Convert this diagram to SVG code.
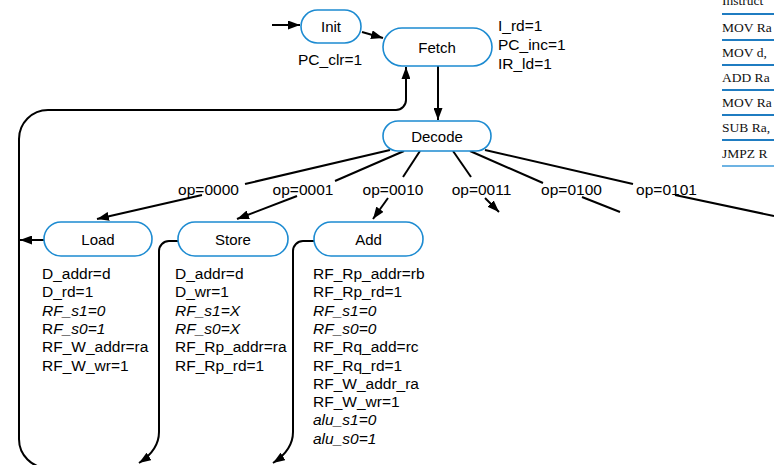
<svg xmlns="http://www.w3.org/2000/svg" width="774" height="465" viewBox="0 0 774 465">
<defs>
<marker id="ah" markerWidth="12" markerHeight="9" refX="12" refY="4.5" orient="auto" markerUnits="userSpaceOnUse"><path d="M0,0 L12,4.5 L0,9 z" fill="#000"/></marker>
<style>
.n rect{fill:#fff;stroke:#1d8bd1;stroke-width:1.6}
.n text{font-family:"Liberation Sans",Arial,sans-serif;font-size:15px;text-anchor:middle;fill:#000}
.c path,.c line{stroke:#000;stroke-width:2;fill:none}
.a{marker-end:url(#ah)}
.t{font-family:"Liberation Sans",Arial,sans-serif;font-size:15.5px;fill:#000}
.i{font-style:italic}
.lbl{font-family:"Liberation Sans",Arial,sans-serif;font-size:15.5px;text-anchor:middle;fill:#000}
.tb{font-family:"Liberation Serif","Times New Roman",serif;font-size:13.5px;fill:#111}
.tl{stroke:#1f7cc1;stroke-width:2.2}
</style>
</defs>
<rect width="774" height="465" fill="#fff"/>

<g id="table">
<text class="tb" x="722" y="5">Instruct</text>
<line class="tl" x1="722" y1="14" x2="774" y2="14"/>
<text class="tb" x="722" y="32">MOV Ra</text>
<line class="tl" x1="722" y1="40" x2="774" y2="40"/>
<text class="tb" x="722" y="57">MOV d,</text>
<line class="tl" x1="722" y1="65" x2="774" y2="65"/>
<text class="tb" x="722" y="82">ADD Ra</text>
<line class="tl" x1="722" y1="90" x2="774" y2="90"/>
<text class="tb" x="722" y="107">MOV Ra</text>
<line class="tl" x1="722" y1="115" x2="774" y2="115"/>
<text class="tb" x="722" y="132">SUB Ra,</text>
<line class="tl" x1="722" y1="140" x2="774" y2="140"/>
<text class="tb" x="722" y="158">JMPZ R</text>
<line class="tl" x1="722" y1="166" x2="774" y2="166" style="stroke:#6db3e3"/>
</g>

<g id="connectors" class="c">
<line class="a" x1="272" y1="25" x2="300" y2="25"/>
<line class="a" x1="362" y1="32" x2="383" y2="38"/>
<line class="a" x1="438" y1="66" x2="438" y2="120"/>
<path class="a" d="M48,468 A29,29 0 0 1 19,439 L19,139 A29,29 0 0 1 48,110 L396,110 A10,10 0 0 0 406,100 L406,67"/>
<line class="a" x1="44" y1="240" x2="20" y2="240"/>
<path class="a" d="M178,241 L169,241 A10,10 0 0 0 159,251 L159,432 Q159,450 139,463"/>
<path class="a" d="M314,241 L303,241 A10,10 0 0 0 293,251 L293,432 Q293,450 273,463"/>
<path d="M390,150 L245,184"/>
<path class="a" d="M202,195 L97,219"/>
<path d="M404,151 L335,181"/>
<path class="a" d="M297,196 L237,219"/>
<path d="M420,151 L403,177"/>
<path class="a" d="M388,198 L373,219"/>
<path d="M453,151 L471,177"/>
<path class="a" d="M485,198 L499,212"/>
<path d="M470,151 L543,183"/>
<path d="M582,197 L620,212"/>
<path d="M485,150 L633,184"/>
<path d="M675,195 L774,216"/>
</g>

<g id="oplabels">
<text class="lbl" x="208.5" y="195">op=0000</text>
<text class="lbl" x="303" y="195">op=0001</text>
<text class="lbl" x="393" y="195">op=0010</text>
<text class="lbl" x="481.5" y="195">op=0011</text>
<text class="lbl" x="571.5" y="195">op=0100</text>
<text class="lbl" x="666.5" y="195">op=0101</text>
</g>

<g id="init" class="n">
<rect x="301" y="10" width="60" height="33" rx="16.5"/>
<text x="331" y="32">Init</text>
</g>
<text class="t" x="298" y="65">PC_clr=1</text>

<g id="fetch" class="n">
<rect x="383" y="28" width="109" height="38" rx="19"/>
<text x="437" y="52.5">Fetch</text>
</g>
<text class="t" x="498" y="31">I_rd=1</text>
<text class="t" x="498" y="50">PC_inc=1</text>
<text class="t" x="498" y="69">IR_ld=1</text>

<g id="decode" class="n">
<rect x="383" y="121" width="108" height="30" rx="15"/>
<text x="437" y="141.5">Decode</text>
</g>

<g id="load" class="n">
<rect x="44" y="222" width="108" height="34" rx="17"/>
<text x="98" y="245">Load</text>
</g>
<g class="t">
<text x="42" y="279">D_addr=d</text>
<text x="42" y="297.3">D_rd=1</text>
<text x="42" y="315.6" class="i">RF_s1=0</text>
<text x="42" y="333.9">R<tspan class="i">F_s0=1</tspan></text>
<text x="42" y="352.2">RF_W_addr=ra</text>
<text x="42" y="370.5">RF_W_wr=1</text>
</g>

<g id="store" class="n">
<rect x="178" y="222" width="110" height="34" rx="17"/>
<text x="233" y="245">Store</text>
</g>
<g class="t">
<text x="175" y="279">D_addr=d</text>
<text x="175" y="297.3">D_wr=1</text>
<text x="175" y="315.6" class="i">RF_s1=X</text>
<text x="175" y="333.9" class="i">RF_s0=X</text>
<text x="175" y="352.2">RF_Rp_addr=ra</text>
<text x="175" y="370.5">RF_Rp_rd=1</text>
</g>

<g id="add" class="n">
<rect x="314" y="222" width="109" height="34" rx="17"/>
<text x="368.5" y="245">Add</text>
</g>
<g class="t">
<text x="313" y="279">RF_Rp_addr=rb</text>
<text x="313" y="297.3">RF_Rp_rd=1</text>
<text x="313" y="315.6" class="i">RF_s1=0</text>
<text x="313" y="333.9" class="i">RF_s0=0</text>
<text x="313" y="352.2">RF_Rq_add=rc</text>
<text x="313" y="370.5">RF_Rq_rd=1</text>
<text x="313" y="388.8">RF_W_addr_ra</text>
<text x="313" y="407.1">RF_W_wr=1</text>
<text x="313" y="425.4" class="i">alu_s1=0</text>
<text x="313" y="443.7" class="i">alu_s0=1</text>
</g>
</svg>
